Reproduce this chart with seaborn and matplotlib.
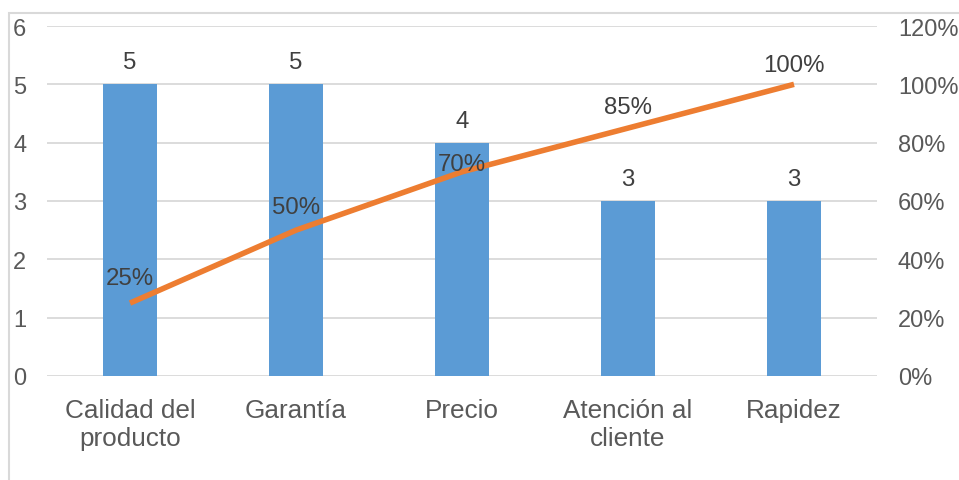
import matplotlib
matplotlib.use("Agg")
import matplotlib.pyplot as plt
from matplotlib.patches import Rectangle
from matplotlib.ticker import FuncFormatter
import numpy as np
import pandas as pd
import seaborn as sns

categories = ["Calidad del\nproducto", "Garantía", "Precio", "Atención al\ncliente", "Rapidez"]
counts = [5, 5, 4, 3, 3]
cum_pct = [0.25, 0.50, 0.70, 0.85, 1.00]
pct_labels = ["25%", "50%", "70%", "85%", "100%"]
pct_label_offsets = [25, 23, 8, 21, 19]  # pixels above point

sns.set_theme(style="white")
plt.rcParams["font.family"] = ["Liberation Sans", "DejaVu Sans"]

BAR = "#5B9BD5"
LINE = "#ED7D31"
GRID = "#D9D9D9"
TICK = "#595959"
LABEL = "#404040"

W, H = 959, 481
fig = plt.figure(figsize=(W / 100, H / 100), dpi=100)
ax = fig.add_axes([47 / W, 104 / H, (877 - 47) / W, (377 - 27) / H])

df = pd.DataFrame({"cat": categories, "count": counts})
sns.barplot(data=df, x="cat", y="count", ax=ax, color=BAR, width=0.32,
            saturation=1, order=categories)
for p in ax.patches:
    p.set_edgecolor("none")

ax.set_ylim(0, 6)
ax.set_xlim(-0.5, len(categories) - 0.5)
ax.set_yticks(range(0, 7))
ax.yaxis.grid(True, color=GRID, linewidth=1.3)
ax.set_axisbelow(True)
for s in ax.spines.values():
    s.set_visible(False)
ax.set_xlabel("")
ax.set_ylabel("")
ax.tick_params(axis="y", length=0, pad=15, labelsize=17, labelcolor=TICK)
ax.tick_params(axis="x", length=0, pad=16, labelsize=18.8, labelcolor=TICK)
for t in ax.get_xticklabels():
    t.set_linespacing(1.18)
ax.bar_label(ax.containers[0], labels=[str(v) for v in counts], padding=8,
             fontsize=17.3, color=LABEL)

ax2 = ax.twinx()
sns.lineplot(x=np.arange(len(cum_pct)), y=cum_pct, ax=ax2, color=LINE,
             linewidth=4.0, sort=False)
for ln in ax2.lines:
    ln.set_solid_capstyle("butt")
ax2.set_ylim(0, 1.2)
ax2.set_xlim(-0.5, len(categories) - 0.5)
ax2.set_yticks(np.arange(0, 1.21, 0.2))
ax2.yaxis.set_major_formatter(FuncFormatter(lambda v, _: f"{round(v * 100)}%"))
ax2.tick_params(axis="y", length=0, pad=15, labelsize=17, labelcolor=TICK)
for s in ax2.spines.values():
    s.set_visible(False)
ax2.set_ylabel("")
for i, (v, lab, off) in enumerate(zip(cum_pct, pct_labels, pct_label_offsets)):
    ax2.annotate(lab, (i, v), xytext=(0, off), textcoords="offset pixels",
                 ha="center", va="center", fontsize=17.3, color=LABEL)

fig.add_artist(Rectangle((8.5 / W, -0.2), 2.0, (H - 13.5) / H + 0.2,
                         transform=fig.transFigure, fill=False,
                         edgecolor=GRID, linewidth=1.5, clip_on=False))

fig.savefig("out.png", dpi=100)
